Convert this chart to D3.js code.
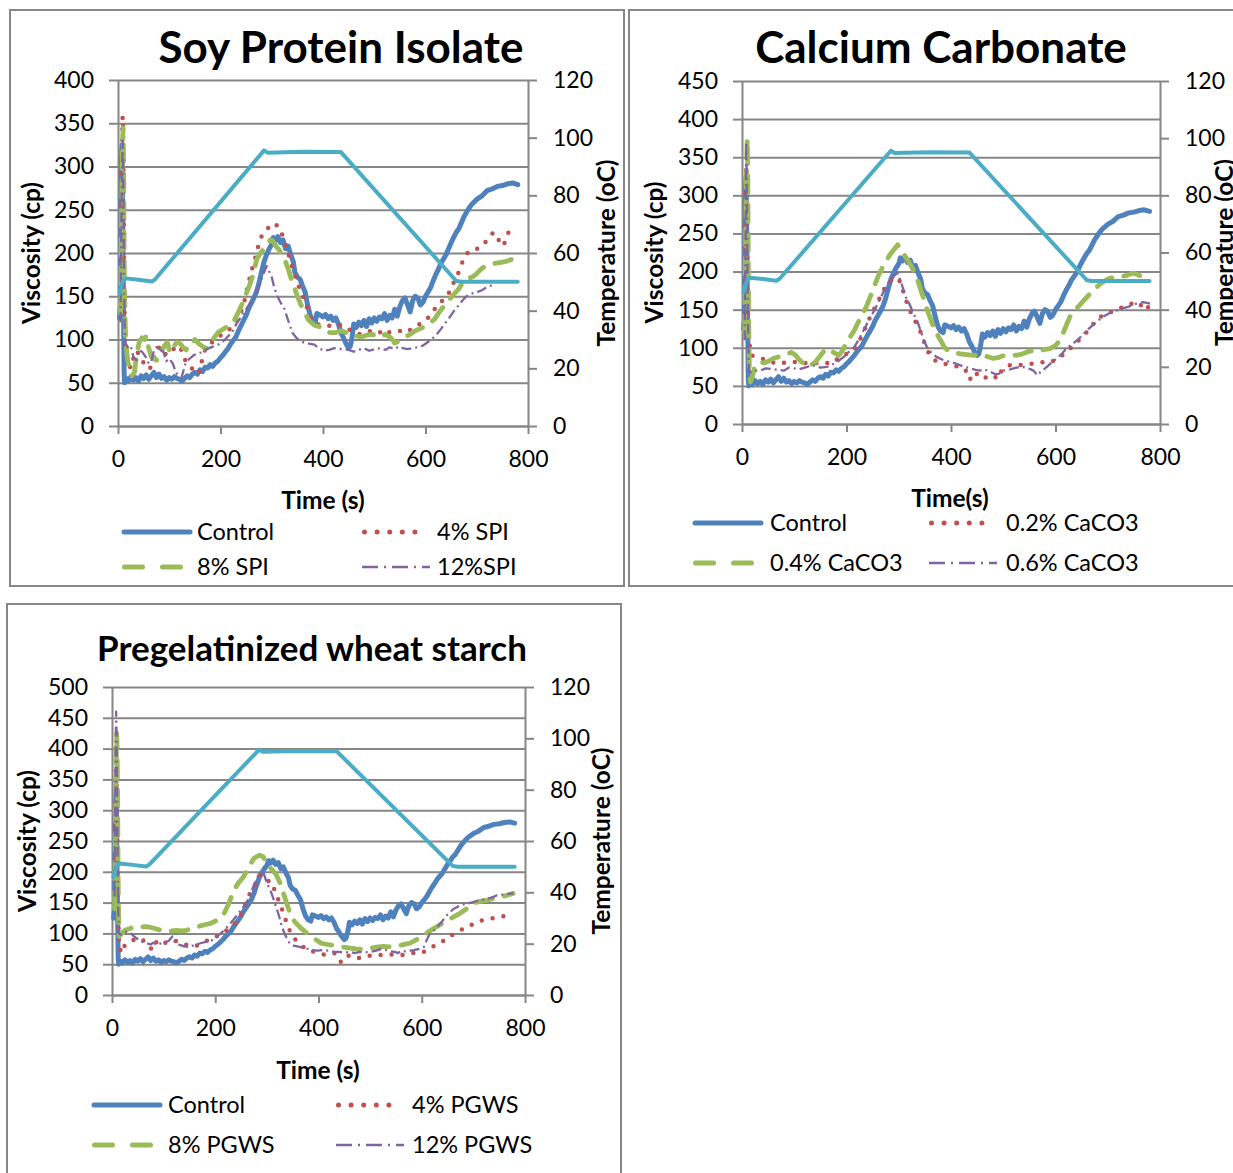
<!DOCTYPE html>
<html><head><meta charset="utf-8">
<script src="https://cdn.jsdelivr.net/npm/d3@7"></script>
<style>
body{margin:0;background:#fff}
svg{display:block}
text{font-family:Lato,"Open Sans",sans-serif;fill:#000}
</style>
</head><body>
<svg id="c" width="1233" height="1173"></svg>
<script>
// ---------- DATA ----------
const timeTicks = [0, 200, 400, 600, 800];
const tempTicks = [0, 20, 40, 60, 80, 100, 120];

// temperature profile [time s, °C] (right axis)
const temperature = [[3,46],[10,50.5],[15,51.2],[40,50.7],[66,50.1],[72,50.8],[285,95.6],[292,94.8],[360,95.1],[435,95],[660,50.3],[670,50],[780,50]];

// Control viscosity [time s, cp] (same in all three panels)
const control = [[3,125],[5,140],[6,250],[7,310],[8,325],[9,260],[10,180],[11,120],[12,60],[13,50],[16,55],[20,52],[25,57],[30,53],[35,56],[40,52],[45,58],[50,55],[55,59],[60,54],[65,58],[70,62],[75,56],[80,60],[85,55],[90,57],[95,53],[100,56],[105,54],[110,57],[115,55],[120,54],[125,52],[130,55],[135,58],[140,56],[145,60],[150,62],[155,60],[160,65],[165,63],[170,68],[175,67],[180,71],[185,69],[190,73],[195,75],[200,79],[205,82],[210,86],[215,90],[220,95],[225,99],[230,103],[235,110],[240,116],[245,122],[250,128],[255,136],[260,142],[265,148],[270,155],[275,165],[280,178],[285,190],[290,198],[295,205],[300,210],[303,218],[307,214],[312,219],[317,212],[322,215],[327,205],[332,208],[337,198],[342,190],[345,178],[350,172],[355,170],[360,162],[365,155],[370,140],[375,128],[380,122],[385,120],[388,130],[395,128],[400,126],[405,129],[410,124],[415,127],[420,122],[425,125],[430,118],[435,108],[440,102],[445,95],[450,90],[453,92],[456,100],[460,118],[465,114],[470,120],[475,116],[480,122],[485,115],[490,124],[495,119],[500,125],[505,121],[510,126],[515,124],[520,130],[525,122],[530,128],[535,125],[540,135],[545,127],[550,138],[555,145],[560,148],[565,140],[570,132],[575,145],[580,150],[585,148],[590,140],[595,143],[600,150],[605,155],[610,160],[615,168],[620,175],[625,181],[630,188],[635,193],[640,198],[645,205],[650,212],[655,218],[660,224],[665,228],[670,235],[675,242],[680,247],[685,252],[690,256],[695,259],[700,262],[710,266],[720,272],[730,274],[740,277],[750,278],[760,280],[770,281],[780,279]];

// Soy protein isolate
const spi4 = [[5,140],[7,300],[9,358],[10,345],[11,280],[12,180],[13,120],[15,85],[20,72],[25,67],[30,78],[36,87],[42,82],[48,75],[55,68],[62,66],[70,78],[76,88],[82,92],[88,86],[95,82],[103,85],[110,90],[116,93],[122,90],[128,80],[132,75],[138,70],[145,66],[150,62],[155,60],[160,63],[165,80],[170,88],[176,92],[182,96],[190,100],[198,104],[210,108],[220,113],[232,123],[240,132],[247,145],[253,162],[260,178],[268,195],[276,213],[282,222],[288,226],[295,230],[300,233],[308,234],[313,228],[318,225],[324,215],[332,200],[338,188],[345,175],[352,162],[360,152],[367,140],[375,126],[383,119],[392,117],[400,116],[410,116],[420,115],[430,117],[440,116],[450,112],[460,108],[470,106],[480,108],[490,110],[500,107],[510,108],[521,112],[530,108],[540,109],[550,110],[556,108],[565,110],[575,112],[585,116],[598,123],[605,125],[613,131],[625,141],[635,146],[643,150],[650,160],[657,168],[664,177],[673,191],[684,202],[695,204],[707,206],[714,210],[721,216],[727,220],[733,224],[740,218],[746,212],[752,208],[757,216],[762,224],[768,226],[774,229]];
const spi8 = [[5,130],[7,250],[9,330],[10,345],[11,300],[12,200],[13,140],[15,100],[18,80],[22,65],[27,58],[32,62],[37,85],[42,98],[47,102],[52,100],[55,104],[60,90],[65,80],[70,78],[75,76],[78,77],[84,85],[90,92],[96,97],[100,88],[106,85],[109,92],[115,97],[122,95],[128,90],[133,88],[138,95],[144,96],[150,100],[158,95],[165,92],[171,89],[177,95],[185,100],[195,108],[205,112],[217,116],[225,120],[232,128],[240,138],[248,150],[255,160],[262,172],[271,193],[278,200],[285,205],[292,210],[297,215],[302,214],[308,208],[315,203],[320,198],[325,193],[332,182],[338,170],[344,160],[350,150],[357,140],[364,132],[371,123],[378,119],[385,116],[392,115],[400,113],[413,108],[425,108],[435,110],[445,108],[456,108],[465,104],[475,103],[485,105],[495,106],[505,104],[515,103],[521,106],[528,104],[535,100],[540,96],[548,98],[555,100],[562,103],[570,106],[580,110],[587,112],[595,114],[605,118],[617,123],[625,130],[635,138],[645,145],[655,152],[664,158],[672,165],[682,170],[690,172],[698,175],[706,180],[712,183],[717,185],[725,186],[735,188],[745,189],[755,190],[765,192],[771,193],[778,195]];
const spi12 = [[5,120],[7,260],[9,330],[10,310],[11,230],[12,160],[13,110],[15,95],[20,90],[25,92],[30,80],[36,76],[42,88],[48,85],[54,80],[60,72],[65,75],[71,89],[77,92],[83,88],[89,85],[94,75],[100,78],[107,72],[113,62],[118,58],[124,56],[132,73],[140,78],[148,82],[156,84],[163,85],[170,88],[178,90],[186,92],[195,94],[202,96],[212,102],[222,108],[232,119],[240,126],[248,134],[256,140],[263,146],[270,155],[277,165],[283,175],[290,185],[294,180],[300,172],[305,160],[311,150],[318,142],[325,135],[332,122],[340,108],[348,102],[356,98],[365,96],[375,95],[383,94],[392,90],[402,87],[412,88],[422,90],[430,89],[440,89],[450,88],[460,86],[470,88],[480,90],[490,87],[502,89],[512,90],[522,88],[530,91],[540,89],[548,92],[556,90],[565,89],[575,90],[585,91],[595,93],[602,96],[612,100],[622,106],[630,112],[637,118],[644,123],[652,130],[658,135],[664,139],[672,145],[680,150],[687,152],[694,154],[702,155],[710,157],[718,160],[725,162],[735,163]];

// Calcium carbonate
const caco02 = [[5,130],[7,280],[8,340],[9,300],[10,230],[11,160],[13,110],[18,90],[26,88],[35,86],[44,85],[54,83],[62,80],[69,79],[78,80],[88,81],[98,82],[110,79],[120,80],[133,81],[144,80],[155,81],[163,80],[170,79],[180,84],[190,88],[200,92],[208,94],[215,97],[224,108],[234,123],[243,137],[253,151],[262,163],[271,176],[280,185],[290,191],[296,192],[301,189],[308,175],[316,158],[322,148],[328,140],[335,130],[343,119],[350,105],[358,92],[366,85],[376,81],[387,79],[399,77],[408,76],[418,75],[427,72],[436,58],[444,68],[453,64],[463,59],[470,63],[478,64],[484,62],[489,59],[495,68],[503,74],[511,77],[520,78],[530,77],[541,78],[552,79],[563,80],[575,81],[582,80],[590,81],[600,84],[609,88],[618,93],[626,98],[635,103],[646,111],[658,119],[669,128],[680,138],[690,142],[699,145],[710,148],[721,151],[734,155],[747,158],[757,160],[766,154],[772,149],[778,154],[781,156]];
const caco04 = [[5,120],[7,250],[9,340],[10,375],[11,330],[12,220],[13,120],[14,75],[16,55],[20,62],[24,75],[30,79],[35,81],[42,80],[50,82],[60,86],[69,88],[78,90],[86,92],[95,94],[103,90],[110,84],[118,79],[125,75],[133,78],[140,81],[148,88],[156,95],[166,99],[175,94],[185,90],[191,95],[196,101],[205,112],[215,123],[225,137],[238,154],[250,175],[260,193],[270,207],[283,222],[292,230],[298,235],[305,228],[313,219],[320,212],[331,198],[338,185],[345,170],[352,155],[357,145],[364,132],[372,119],[380,110],[387,101],[395,96],[405,94],[418,92],[430,91],[444,90],[455,91],[463,90],[472,88],[481,86],[490,87],[497,89],[504,90],[515,91],[525,90],[537,92],[548,95],[560,97],[570,96],[580,98],[590,99],[600,103],[609,110],[618,125],[627,140],[635,148],[645,155],[654,162],[665,170],[676,178],[688,185],[702,191],[713,192],[725,193],[737,195],[748,198],[758,196],[765,193],[771,196],[777,195]];
const caco06 = [[5,110],[7,250],[8,370],[9,330],[10,250],[11,170],[12,110],[13,70],[18,68],[25,70],[35,70],[45,73],[58,72],[70,71],[80,70],[90,74],[100,73],[110,72],[120,74],[130,76],[140,77],[150,74],[163,75],[172,78],[180,80],[185,83],[195,88],[205,95],[215,101],[226,114],[238,130],[250,145],[260,158],[272,175],[283,189],[292,195],[298,198],[305,185],[313,167],[320,158],[328,145],[335,136],[342,122],[348,110],[354,101],[362,94],[372,88],[385,84],[395,82],[403,81],[414,78],[425,75],[438,73],[447,71],[455,70],[463,72],[470,70],[480,67],[486,65],[492,66],[500,70],[508,71],[515,72],[525,74],[537,75],[545,73],[552,72],[558,70],[563,66],[567,64],[571,68],[575,70],[585,76],[595,82],[604,87],[612,92],[622,100],[632,105],[642,110],[652,117],[662,124],[672,130],[682,136],[692,141],[702,145],[714,148],[725,151],[740,154],[755,158],[768,160],[781,158]];

// Pregelatinized wheat starch
const pgws4 = [[5,150],[7,330],[8,397],[9,350],[10,270],[11,190],[12,120],[14,80],[18,68],[25,81],[32,86],[41,89],[48,90],[56,92],[65,85],[72,78],[79,73],[84,80],[87,89],[95,87],[106,84],[115,86],[122,88],[129,86],[136,84],[142,82],[148,81],[157,79],[167,81],[176,85],[186,89],[194,92],[202,95],[212,100],[222,105],[232,111],[240,118],[248,127],[255,140],[263,159],[270,168],[275,176],[281,186],[286,195],[292,190],[298,186],[304,185],[309,184],[315,170],[321,157],[327,145],[332,132],[338,118],[345,103],[352,93],[359,86],[368,80],[378,73],[386,71],[393,70],[403,67],[413,65],[422,67],[432,68],[438,62],[443,54],[449,60],[455,65],[463,62],[474,59],[483,61],[493,62],[500,64],[508,65],[518,65],[528,65],[537,66],[547,65],[555,65],[562,65],[572,66],[581,68],[590,68],[600,68],[610,73],[620,78],[630,82],[639,86],[650,93],[660,98],[669,103],[680,107],[689,111],[699,115],[708,119],[720,122],[731,124],[740,125],[750,127],[760,128],[769,130]];
const pgws8 = [[5,140],[7,320],[9,425],[10,400],[11,300],[12,180],[13,110],[14,95],[18,100],[25,105],[35,108],[44,111],[54,110],[64,111],[74,110],[83,108],[95,105],[106,103],[116,104],[125,105],[135,104],[144,105],[155,108],[167,111],[179,114],[190,116],[198,119],[208,124],[217,132],[226,148],[236,170],[245,182],[255,192],[265,208],[275,222],[286,227],[292,225],[300,215],[308,205],[317,197],[325,183],[332,165],[340,145],[347,127],[355,118],[363,111],[375,102],[386,95],[395,90],[405,84],[418,82],[432,80],[447,78],[455,77],[462,76],[472,75],[485,74],[500,76],[516,78],[526,79],[535,78],[547,80],[560,81],[570,83],[577,84],[590,90],[604,97],[614,103],[623,108],[635,114],[646,119],[660,126],[673,132],[687,140],[700,149],[713,152],[727,154],[740,157],[754,159],[765,162],[777,165]];
const pgws12 = [[5,160],[7,380],[8,460],[9,420],[10,320],[11,220],[12,140],[13,100],[18,98],[25,102],[33,103],[40,97],[46,93],[52,89],[60,86],[67,84],[75,82],[80,85],[87,81],[95,84],[103,86],[110,88],[117,95],[122,85],[128,82],[133,81],[140,79],[148,78],[156,80],[163,82],[171,84],[180,86],[187,87],[194,89],[205,96],[217,105],[228,115],[240,127],[252,140],[263,154],[272,172],[282,192],[288,196],[294,197],[300,182],[309,165],[316,148],[324,127],[330,108],[337,95],[344,84],[352,80],[363,78],[375,76],[386,73],[398,72],[409,73],[420,72],[430,70],[439,70],[450,69],[460,70],[470,68],[480,70],[490,69],[501,70],[512,72],[522,75],[531,73],[540,71],[548,70],[554,68],[562,72],[570,70],[578,72],[585,73],[595,75],[604,78],[610,90],[616,100],[624,105],[631,111],[638,118],[646,127],[654,134],[662,140],[669,143],[677,146],[685,148],[692,149],[700,151],[708,153],[715,154],[725,156],[735,158],[746,162],[757,163],[767,164],[777,165]];

const titles = ["Soy Protein Isolate", "Calcium Carbonate", "Pregelatinized wheat starch"];
const xTitles = ["Time (s)", "Time(s)", "Time (s)"];
const yTitle = "Viscosity (cp)";
const y2Title = "Temperature (oC)";
const legendNames = [
  ["Control", "4% SPI", "8% SPI", "12%SPI"],
  ["Control", "0.2% CaCO3", "0.4% CaCO3", "0.6% CaCO3"],
  ["Control", "4% PGWS", "8% PGWS", "12% PGWS"]
];
const viscMax = [400, 450, 500];
const viscStep = 50;
const seriesData = [
  [control, spi4, spi8, spi12],
  [control, caco02, caco04, caco06],
  [control, pgws4, pgws8, pgws12]
];

// ---------- STYLES / LAYOUT ----------
const GRID = "#868686";
const styles = [
  {color:"#4F81BD", width:5, dash:null, cap:"round"},
  {color:"#C0504D", width:4.5, dash:"0,11", cap:"round"},
  {color:"#9BBB59", width:4.8, dash:"17,12", cap:"round"},
  {color:"#8064A2", width:2.3, dash:"10,4,2,4", cap:"butt"}
];
const legendStyles = [
  {dash:null, x0:2, len:66},
  {dash:"0,12.6", x0:2.5, len:63},
  {dash:"18,20", x0:2.5, len:56},
  {dash:"16,6,2,6", x0:0, len:68}
];
const tempStyle = {color:"#4BACC6", width:4};

const layouts = [
  {frame:[10,10,614,576], x0:118, x1:528, yb:426, yt:80, title:[341,63], titleSize:44, xTitle:[323,509], yTitleX:31, y2TitleX:606,
   legCols:[122,362], legRows:[532,567], textOff:75},
  {frame:[629,10,640,576], x0:742, x1:1160, yb:424, yt:81, title:[941,63], titleSize:44, xTitle:[950,507], yTitleX:654, y2TitleX:1224,
   legCols:[693,929], legRows:[523,563], textOff:77},
  {frame:[7,604,614,600], x0:112, x1:525, yb:995, yt:687, title:[312,661], titleSize:35, xTitle:[318,1079], yTitleX:27, y2TitleX:601,
   legCols:[92,336], legRows:[1105,1145], textOff:76}
];

const svg = d3.select("#c");
svg.append("rect").attr("width",1233).attr("height",1173).attr("fill","#fff");

layouts.forEach((L, pi) => {
  const g = svg.append("g");
  g.append("rect").attr("x",L.frame[0]).attr("y",L.frame[1]).attr("width",L.frame[2]).attr("height",L.frame[3])
    .attr("fill","#fff").attr("stroke",GRID).attr("stroke-width",2);

  const x = d3.scaleLinear().domain([0,800]).range([L.x0,L.x1]);
  const y = d3.scaleLinear().domain([0,viscMax[pi]]).range([L.yb,L.yt]);
  const y2 = d3.scaleLinear().domain([0,120]).range([L.yb,L.yt]);
  const viscTicks = d3.range(0, viscMax[pi]+1, viscStep);

  // gridlines
  const grid = g.append("g").attr("transform",`translate(${L.x0},0)`)
    .call(d3.axisLeft(y).tickValues(viscTicks).tickSize(-(L.x1-L.x0)).tickFormat(""));
  grid.select(".domain").remove();
  grid.selectAll("line").attr("stroke",GRID).attr("stroke-width",2);

  // left axis
  const ax = g.append("g").attr("transform",`translate(${L.x0},0)`)
    .call(d3.axisLeft(y).tickValues(viscTicks).tickSize(9).tickSizeOuter(0).tickPadding(15));
  // right axis
  const ax2 = g.append("g").attr("transform",`translate(${L.x1},0)`)
    .call(d3.axisRight(y2).tickValues(tempTicks).tickSize(9).tickSizeOuter(0).tickPadding(16));
  // bottom axis
  const ax3 = g.append("g").attr("transform",`translate(0,${L.yb})`)
    .call(d3.axisBottom(x).tickValues(timeTicks).tickSize(8).tickSizeOuter(0).tickPadding(17));
  [ax,ax2,ax3].forEach(a => {
    a.select(".domain").attr("stroke",GRID).attr("stroke-width",2);
    a.selectAll(".tick line").attr("stroke",GRID).attr("stroke-width",2);
    a.selectAll("text").attr("font-size",23).attr("font-family","Lato").attr("fill","#000");
  });

  // series
  const line = d3.line().x(d => x(d[0])).y(d => y(d[1]));
  seriesData[pi].forEach((s, si) => {
    const st = styles[si];
    g.append("path").datum(s).attr("d",line).attr("fill","none")
      .attr("stroke",st.color).attr("stroke-width",st.width)
      .attr("stroke-linejoin","round").attr("stroke-linecap",st.cap)
      .attr("stroke-dasharray",st.dash);
  });
  const tline = d3.line().x(d => x(d[0])).y(d => y2(d[1]));
  g.append("path").datum(temperature).attr("d",tline).attr("fill","none")
    .attr("stroke",tempStyle.color).attr("stroke-width",tempStyle.width)
    .attr("stroke-linejoin","round").attr("stroke-linecap","round");

  // titles
  g.append("text").attr("x",L.title[0]).attr("y",L.title[1]).attr("text-anchor","middle")
    .attr("font-size",L.titleSize).attr("font-weight","bold").text(titles[pi]);
  g.append("text").attr("x",L.xTitle[0]).attr("y",L.xTitle[1]).attr("text-anchor","middle")
    .attr("font-size",24.5).attr("font-weight","bold").text(xTitles[pi]);
  g.append("text").attr("transform",`translate(${L.yTitleX},${(L.yb+L.yt)/2}) rotate(-90)`)
    .attr("text-anchor","middle").attr("dy","0.35em")
    .attr("font-size",24.5).attr("font-weight","bold").text(yTitle);
  g.append("text").attr("transform",`translate(${L.y2TitleX},${(L.yb+L.yt)/2}) rotate(-90)`)
    .attr("text-anchor","middle").attr("dy","0.35em")
    .attr("font-size",24.5).attr("font-weight","bold").text(y2Title);

  // legend
  legendNames[pi].forEach((name, li) => {
    const cx = L.legCols[li % 2], cy = L.legRows[Math.floor(li/2)];
    const ls = legendStyles[li], st = styles[li];
    g.append("line").attr("x1",cx+ls.x0).attr("x2",cx+ls.x0+ls.len).attr("y1",cy).attr("y2",cy)
      .attr("stroke",st.color).attr("stroke-width",li===3?2.5:5)
      .attr("stroke-linecap", li===3 ? "butt" : "round")
      .attr("stroke-dasharray",ls.dash);
    g.append("text").attr("x",cx+L.textOff).attr("y",cy).attr("dy","0.35em")
      .attr("font-size",23.5).text(name);
  });
});
</script>
</body></html>
